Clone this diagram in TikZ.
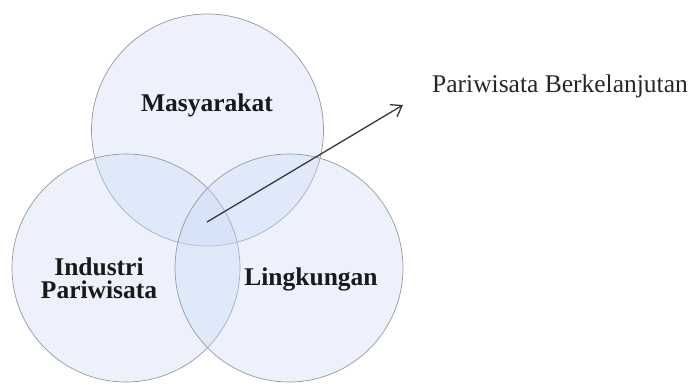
\documentclass[tikz,border=0pt]{standalone}
\usepackage{fontspec}
\setmainfont{Liberation Serif}
\usepackage{xcolor}
\usepackage{tikz}
\usetikzlibrary{arrows.meta, positioning}

\definecolor{vennfill}{RGB}{200,216,245}
\definecolor{vennline}{RGB}{150,152,160}
\definecolor{arrowline}{RGB}{55,55,60}

\begin{document}
\begin{tikzpicture}[
  x=1pt, y=-1pt,
  venn/.style={circle, draw=vennline, fill=vennfill, fill opacity=0.35,
               line width=0.7pt, inner sep=0pt, outer sep=0pt},
  vlabel/.style={font=\fontsize{25.5}{23}\selectfont\bfseries, text=black!90,
                 inner sep=0pt, align=center},
  plabel/.style={font=\fontsize{25.5}{23}\selectfont, text=black!85, inner sep=0pt},
  >={Straight Barb[length=10pt, width=14pt]}
]
\useasboundingbox (0,0) rectangle (690,385);

% ── Three overlapping circles ──
\node[venn, minimum size=232pt] (soccircle) at (207.5,130) {};
\node[venn, minimum size=228pt] (indcircle) at (126,268)   {};
\node[venn, minimum size=228pt] (envcircle) at (289,268)   {};

% ── Circle labels ──
\node[vlabel, anchor=base] (soc) at (207,112) {Masyarakat};
\node[vlabel]              (ind) at (99,278)  {Industri\\Pariwisata};
\node[vlabel, anchor=base] (env) at (311,285) {Lingkungan};

% ── Overlap pointer ──
\coordinate (core) at (207,222);
\coordinate (tip)  at (403,105);
\node[plabel, anchor=base west] (sust) at (432,93) {Pariwisata Berkelanjutan};
\draw[->, draw=arrowline, line width=1.3pt] (core) -- (tip);
\end{tikzpicture}
\end{document}
